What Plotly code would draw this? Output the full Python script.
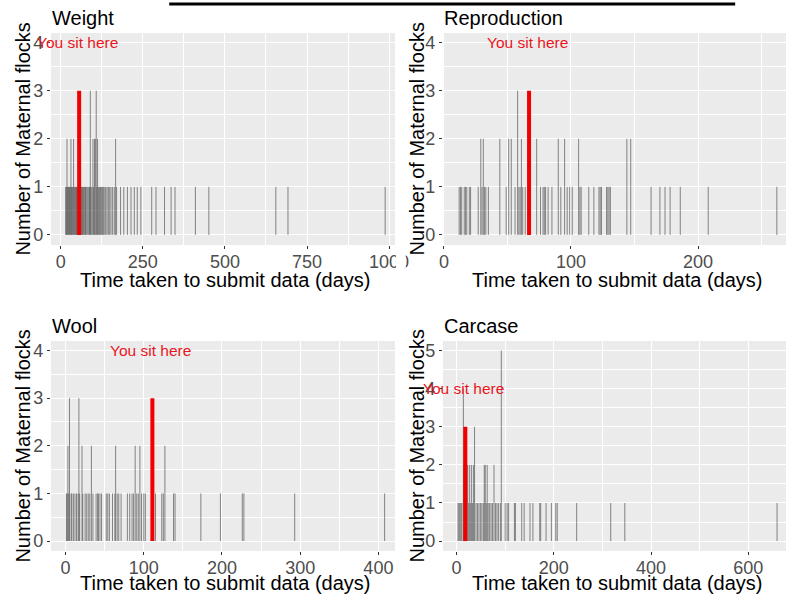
import plotly.graph_objects as go

# ---------------- data ----------------
panel_titles = ["Weight", "Reproduction", "Wool", "Carcase"]

weight_days = [15, 17, 19, 21, 23, 25, 27, 29, 31, 33, 35, 37, 39, 42, 44, 46, 48, 50, 52,
               58, 61, 63, 66, 68, 70, 73, 75, 77, 80, 83, 86, 88, 90, 92, 95, 98, 100, 103,
               105, 108, 110, 112, 115, 118, 121, 124, 127, 130, 134, 137, 141, 145, 149,
               153, 158, 163, 167, 170, 182, 192, 203, 214, 224, 233, 244, 277, 290, 316,
               336, 348, 410, 451, 655, 692, 988]
weight_counts = [1, 1, 2, 1, 1, 1, 1, 1, 2, 1, 1, 1, 2, 1, 1, 1, 1, 1, 1,
                 1, 1, 1, 1, 1, 1, 1, 1, 1, 1, 1, 1, 1, 3, 1, 1, 2, 1, 2,
                 2, 3, 1, 2, 1, 1, 1, 1, 1, 1, 1, 1, 1, 1, 1,
                 1, 1, 1, 2, 1, 1, 1, 1, 1, 1, 1, 1, 1, 1, 1,
                 1, 1, 1, 1, 1, 1, 1]

repro_days = [12, 13, 14, 16, 17, 18, 20, 21, 27, 29, 30, 31, 32, 33, 35, 44, 49, 51, 53,
              56, 58, 59, 60, 61, 62, 64, 73, 76, 78, 79, 80, 82, 85, 90, 92, 95, 97, 99,
              101, 106, 107, 108, 114, 118, 122, 123, 124, 128, 129, 130, 131, 144, 147,
              163, 170, 174, 178, 186, 208, 262]
repro_counts = [1, 1, 1, 1, 1, 1, 1, 1, 1, 2, 1, 2, 1, 1, 1, 2, 1, 2, 2,
                1, 3, 1, 1, 2, 1, 1, 2, 1, 1, 1, 1, 1, 1, 2, 1, 2, 1, 1,
                1, 2, 1, 1, 1, 1, 1, 1, 1, 1, 1, 1, 1, 2, 2,
                1, 1, 1, 1, 1, 1, 1]

wool_days = [1, 2, 3, 4, 5, 7, 8, 10, 12, 14, 16, 17, 18, 21, 22, 25, 27, 29, 31, 33, 35,
             39, 41, 42, 44, 46, 52, 54, 56, 60, 63, 64, 66, 68, 71, 79, 82, 85, 87, 89,
             91, 93, 95, 97, 100, 102, 115, 123, 125, 127, 138, 140, 173, 198, 226, 228,
             293, 408]
wool_counts = [1, 1, 2, 1, 3, 1, 1, 1, 1, 1, 1, 3, 1, 2, 1, 1, 1, 1, 1, 2, 1,
               1, 1, 1, 1, 1, 1, 1, 1, 1, 1, 2, 1, 1, 1, 1, 1, 1, 1, 2,
               1, 1, 2, 1, 1, 1, 1, 1, 1, 2, 1, 1, 1, 1, 1, 1,
               1, 1]

carcase_days = [3, 5, 7, 9, 11, 14, 15, 21, 23, 25, 27, 29, 31, 33, 35, 37, 40, 43, 46, 49,
                52, 55, 57, 59, 61, 63, 65, 68, 71, 74, 77, 80, 83, 86, 90, 92, 100, 104,
                107, 119, 121, 134, 139, 151, 157, 171, 173, 184, 195, 204, 207, 247, 317,
                346, 659]
carcase_counts = [1, 1, 1, 1, 1, 4, 2, 2, 2, 1, 2, 1, 2, 1, 2, 3, 1, 1, 1, 1,
                  1, 1, 2, 2, 1, 2, 1, 1, 1, 1, 2, 1, 1, 1, 1, 5, 1, 1,
                  1, 1, 1, 1, 1, 1, 1, 1, 1, 1, 1, 1, 1, 1, 1,
                  1, 1]

you_days = [56, 67, 111, 18]
you_counts = [3, 3, 3, 3]
you_label = "You sit here"

x_ticks = [[0, 250, 500, 750, 1000], [0, 100, 200], [0, 100, 200, 300, 400], [0, 200, 400, 600]]
y_ticks = [[0, 1, 2, 3, 4], [0, 1, 2, 3, 4], [0, 1, 2, 3, 4], [0, 1, 2, 3, 4, 5]]
x_title = "Time taken to submit data (days)"
y_title = "Number of Maternal flocks"

all_days = [weight_days, repro_days, wool_days, carcase_days]
all_counts = [weight_counts, repro_counts, wool_counts, carcase_counts]

# ---------------- layout geometry (pixels) ----------------
W, H = 800, 597
FONT = "Liberation Sans, Arial, sans-serif"
boxes = [(48, 400, 33, 245), (449, 800, 33, 245), (48, 400, 341, 551), (449, 800, 341, 551)]
x_ranges = [[-30, 1018], [-0.8, 269.2], [-18.75, 421.25], [-28.1, 677.4]]
y_ranges = [[-0.21, 4.2], [-0.21, 4.2], [-0.21, 4.2], [-0.26, 5.25]]
x_minor = [125, 50, 50, 100]
xtitle_y = [280, 280, 583, 583]

def px(x):
    return x / W

def py(y):
    return 1 - y / H

fig = go.Figure()
layout = dict(
    width=W, height=H, margin=dict(l=0, r=0, t=0, b=0),
    paper_bgcolor="white", plot_bgcolor="#EBEBEB",
    showlegend=False, font=dict(family=FONT),
)
annotations = []
shapes = []

for i in range(4):
    k = "" if i == 0 else str(i + 1)
    xa, ya = "x" + k, "y" + k
    x0, x1, y0, y1 = boxes[i]
    # histogram bars (counts per day) drawn as thin vertical bars
    seg_x, seg_y = [], []
    for d, c in zip(all_days[i], all_counts[i]):
        seg_x += [d, d, None]
        seg_y += [0, c, None]
    fig.add_trace(go.Scatter(
        x=seg_x, y=seg_y, mode="lines",
        line=dict(color="rgba(60,60,60,0.6)", width=1),
        xaxis=xa, yaxis=ya, hoverinfo="skip", connectgaps=False))
    fig.add_trace(go.Scatter(
        x=[you_days[i], you_days[i]], y=[0, you_counts[i]], mode="lines",
        line=dict(color="#f00000", width=4), xaxis=xa, yaxis=ya, hoverinfo="skip"))
    axis_common = dict(
        showgrid=True, gridcolor="white", gridwidth=1.1, zeroline=False,
        showline=False, ticks="outside", ticklen=3, tickwidth=1, tickcolor="#333333",
        ticklabelstandoff=-3,
        tickfont=dict(size=18, color="#4d4d4d", family=FONT),
    )
    layout["xaxis" + k] = dict(
        axis_common, domain=[px(x0), px(x1)], anchor=ya, range=x_ranges[i],
        tickmode="array", tickvals=x_ticks[i],
        minor=dict(dtick=x_minor[i], tick0=0, showgrid=True, gridcolor="white", gridwidth=0.5),
    )
    layout["yaxis" + k] = dict(
        axis_common, domain=[py(y1), py(y0)], anchor=xa, range=y_ranges[i],
        tickmode="array", tickvals=y_ticks[i], ticklabelstandoff=0,
        minor=dict(dtick=0.5, tick0=0, showgrid=True, gridcolor="white", gridwidth=0.5),
    )
    # panel title
    annotations.append(dict(
        text=panel_titles[i], xref="paper", yref="paper", x=px(x0 - 1), y=py(y0 - 15),
        xanchor="left", yanchor="middle", showarrow=False,
        font=dict(size=20, color="black", family=FONT)))
    # "You sit here"
    annotations.append(dict(
        text=you_label, xref=xa, yref=ya, x=you_days[i], y=4, xshift=-2,
        xanchor="center", yanchor="middle", showarrow=False,
        font=dict(size=15.5, color="#e8161c", family=FONT)))
    # axis titles
    annotations.append(dict(
        text=x_title, xref="paper", yref="paper", x=px((x0 + x1) / 2 + 3),
        y=py(xtitle_y[i]), xanchor="center", yanchor="middle", showarrow=False,
        font=dict(size=20, color="black", family=FONT)))
    annotations.append(dict(
        text=y_title, xref="paper", yref="paper", x=px(19 if i % 2 == 0 else 422),
        y=py((y0 + y1) / 2), xanchor="center", yanchor="middle", textangle=-90,
        showarrow=False, font=dict(size=20, color="black", family=FONT)))

# cover right part of the cropped "1000" label
shapes.append(dict(type="rect", xref="paper", yref="paper", x0=px(401), x1=px(411),
                   y0=py(272), y1=py(247), fillcolor="white", line=dict(width=0),
                   layer="above"))
# thin black rule at the top
shapes.append(dict(type="line", xref="paper", yref="paper", x0=px(169), x1=px(748),
                   y0=py(4), y1=py(4), line=dict(color="black", width=3), layer="above"))

layout["annotations"] = annotations
layout["shapes"] = shapes
fig.update_layout(**layout)
fig.write_html("out.html")
